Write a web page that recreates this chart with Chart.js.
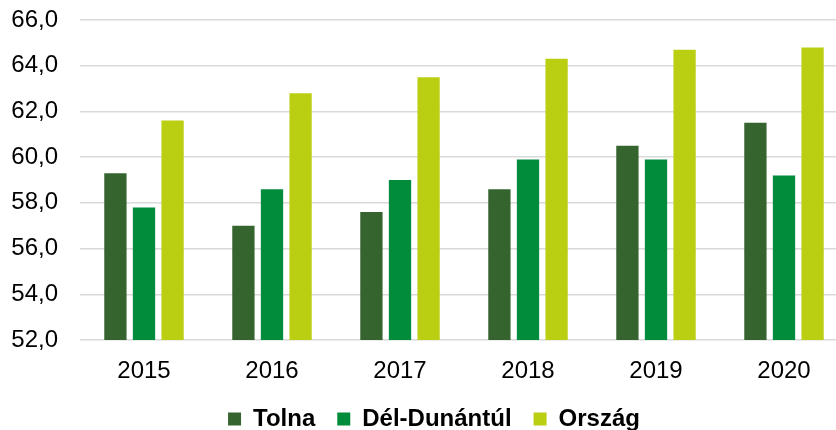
<!DOCTYPE html>
<html>
<head>
<meta charset="utf-8">
<script src="https://cdn.jsdelivr.net/npm/chart.js@4"></script>
<style>
  html, body { margin: 0; padding: 0; background: #fff; overflow: hidden; }
  #wrap { width: 848px; height: 430px; }
</style>
</head>
<body>
<div id="wrap"><canvas id="chart"></canvas></div>
<script>
// adatok
const years = ['2015', '2016', '2017', '2018', '2019', '2020'];
const tolna = [59.3, 57.0, 57.6, 58.6, 60.5, 61.5];
const delDunantul = [57.8, 58.6, 59.0, 59.9, 59.9, 59.2];
const orszag = [61.6, 62.8, 63.5, 64.3, 64.7, 64.8];
const seriesNames = ['Tolna', 'Dél-Dunántúl', 'Ország'];
const yMin = 52, yMax = 66, yStep = 2;

const colors = ['#35642F', '#008C3A', '#BBCF12'];

Chart.defaults.font.family = '"Liberation Sans", Arial, sans-serif';
Chart.defaults.color = '#000';

const datasets = [tolna, delDunantul, orszag].map((d, i) => ({
    label: seriesNames[i],
    data: d,
    backgroundColor: colors[i],
    barPercentage: 0.78,
    categoryPercentage: 0.67
}));

// jelmagyarázat kicsit jobbra tolva, mint az eredetin
const legendShift = {
    id: 'legendShift',
    afterLayout(chart) {
        if (!chart.legend) return;
        chart.legend.left += 10;
        chart.legend.right += 10;
    }
};

new Chart(document.getElementById('chart'), {
    type: 'bar',
    data: { labels: years, datasets },
    options: {
        responsive: true,
        maintainAspectRatio: false,
        animation: false,
        layout: { padding: { left: 0, right: 0, top: 20, bottom: -11 } },
        scales: {
            x: {
                grid: { display: false, drawTicks: false },
                border: { display: false },
                ticks: { padding: 17, font: { size: 24 } },
                afterFit: s => { s.height = 45; }
            },
            y: {
                min: yMin,
                max: yMax,
                // tick marks kept invisible, only used as a gap before the labels
                grid: { color: '#d9d9d9', lineWidth: 1.5, drawTicks: true, tickLength: 22, tickColor: 'transparent' },
                border: { display: false },
                ticks: {
                    stepSize: yStep,
                    padding: 0,
                    font: { size: 24 },
                    callback: v => v.toFixed(1).replace('.', ',')
                },
                afterFit: s => { s.width = 80; }
            }
        },
        plugins: {
            legend: {
                position: 'bottom',
                labels: {
                    boxWidth: 13,
                    boxHeight: 13,
                    padding: 22,
                    font: { size: 24, weight: 'bold' }
                }
            },
            tooltip: { enabled: false }
        }
    },
    plugins: [legendShift]
});
</script>
</body>
</html>
